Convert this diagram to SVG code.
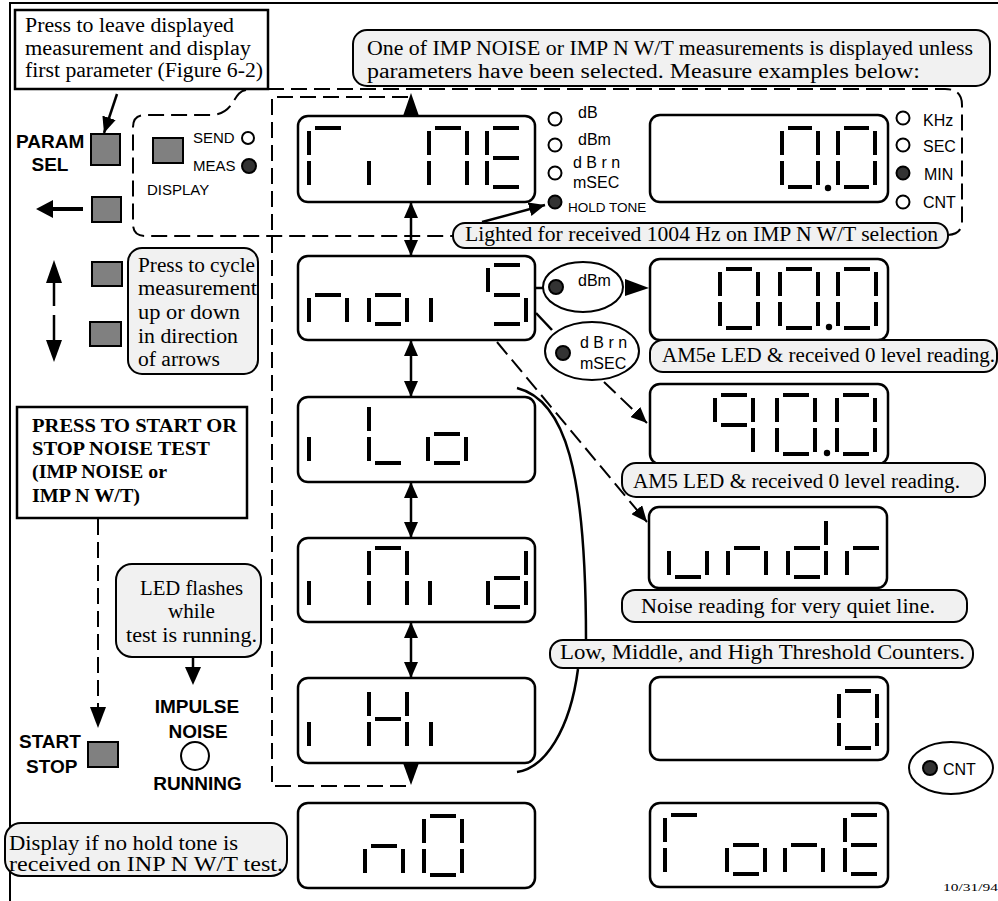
<svg xmlns="http://www.w3.org/2000/svg" width="998" height="901" viewBox="0 0 998 901">
<defs>
<style>
.frame{fill:none;stroke:#000;stroke-width:2}
.box{fill:#fff;stroke:#000;stroke-width:2.5}
.disp{fill:#fff;stroke:#000;stroke-width:2.5}
.bub{fill:#f1f1f1;stroke:#000;stroke-width:2}
.btn{fill:#808080;stroke:#000;stroke-width:2}
.seg{fill:none;stroke:#000;stroke-width:4;stroke-linecap:butt}
.led{fill:#fff;stroke:#000;stroke-width:2}
.ledon{fill:#333;stroke:#000;stroke-width:2}
.oval{fill:#fff;stroke:#000;stroke-width:2}
.ln{fill:none;stroke:#000;stroke-width:2.5}
.dash{fill:none;stroke:#000;stroke-width:2;stroke-dasharray:16 7}
.head{fill:#000;stroke:none}
.serif{font-family:"Liberation Serif","Times New Roman",serif;font-size:20px;fill:#000}
.serifb{font-family:"Liberation Serif","Times New Roman",serif;font-size:18px;font-weight:bold;fill:#000}
.sansb{font-family:"Liberation Sans",Arial,sans-serif;font-size:19px;font-weight:bold;fill:#000}
.sans{font-family:"Liberation Sans",Arial,sans-serif;font-size:16px;fill:#000}
.sans15{font-family:"Liberation Sans",Arial,sans-serif;font-size:15px;fill:#000}
.sans13{font-family:"Liberation Sans",Arial,sans-serif;font-size:13.5px;fill:#000}
</style>
<marker id="ah" viewBox="0 0 16 14" refX="16" refY="7" markerWidth="16" markerHeight="14" markerUnits="userSpaceOnUse" orient="auto-start-reverse"><path d="M0,0 L16,7 L0,14 Z" fill="#000"/></marker>
</defs>
<rect width="998" height="901" fill="#fff"/>
<path class="frame" d="M10,901 V3 H998"/>

<g id="connectors">
<line class="ln" x1="117" y1="94" x2="104" y2="133" marker-end="url(#ah)"/>
<path class="dash" d="M246,90 C232,92 236,113 212,115 L145,115 Q133,115 133,127 L133,224 Q133,236 145,236 L453,236"/>
<path class="dash" d="M268,89 L945,89 Q962,89 962,105 L962,222 Q962,234 948,235"/>
<path class="dash" d="M408,97 L272,97 L272,786 L411,786"/>
<polygon class="head" points="411,93 403,116 419,116"/>
<polygon class="head" points="403,763 419,763 411,785"/>
<line class="ln" x1="411" y1="202" x2="411" y2="256" marker-start="url(#ah)" marker-end="url(#ah)"/>
<line class="ln" x1="411" y1="340" x2="411" y2="397" marker-start="url(#ah)" marker-end="url(#ah)"/>
<line class="ln" x1="411" y1="482" x2="411" y2="538" marker-start="url(#ah)" marker-end="url(#ah)"/>
<line class="ln" x1="411" y1="622" x2="411" y2="678" marker-start="url(#ah)" marker-end="url(#ah)"/>
<line class="ln" x1="482" y1="222" x2="545" y2="205" marker-end="url(#ah)"/>
<line class="ln" x1="535" y1="288" x2="543" y2="288"/>
<polygon class="head" points="625,279 625,296 649,288"/>
<line class="ln" x1="536" y1="313" x2="552" y2="330"/>
<line class="dash" x1="604" y1="382" x2="647" y2="423" marker-end="url(#ah)"/>
<line class="dash" x1="497" y1="342" x2="647" y2="522" marker-end="url(#ah)"/>
<path class="ln" d="M517,388 C565,400 586,470 586,640"/>
<path class="ln" d="M578,669 C570,730 545,768 517,772"/>
<line class="dash" x1="98" y1="519" x2="98" y2="708"/>
<polygon class="head" points="90,707 106,707 98,728"/>
<line class="ln" x1="193" y1="657" x2="193" y2="668"/>
<polygon class="head" points="185,667 201,667 193,685"/>
</g>

<g id="callout-param">
<rect class="box" x="15" y="10" width="253" height="79"/>
<text class="serif" x="25" y="32" textLength="209" lengthAdjust="spacingAndGlyphs">Press to leave displayed</text>
<text class="serif" x="25" y="55" textLength="226" lengthAdjust="spacingAndGlyphs">measurement and display</text>
<text class="serif" x="25" y="77" textLength="238" lengthAdjust="spacingAndGlyphs">first parameter (Figure 6-2)</text>
</g>

<g id="param-sel">
<rect class="btn" x="91" y="134" width="29" height="31"/>
<text class="sansb" x="16" y="148">PARAM</text>
<text class="sansb" x="50" y="171" text-anchor="middle">SEL</text>
</g>

<g id="display-button">
<rect class="btn" x="153" y="138" width="30" height="25"/>
<text class="sans15" x="193" y="143">SEND</text>
<circle class="led" cx="248" cy="138" r="6"/>
<text class="sans15" x="193" y="171">MEAS</text>
<circle class="ledon" cx="249" cy="166" r="7"/>
<text class="sans15" x="147" y="195">DISPLAY</text>
</g>

<g id="back-button">
<rect class="btn" x="92" y="197" width="29" height="25"/>
<line x1="52" y1="209" x2="83" y2="209" stroke="#000" stroke-width="4"/>
<polygon class="head" points="36,209 53,200 53,218"/>
</g>

<g id="updown-buttons">
<rect class="btn" x="92" y="262" width="30" height="24"/>
<rect class="btn" x="90" y="322" width="31" height="24"/>
<polygon class="head" points="54,260 46,283 62,283"/>
<line x1="54" y1="282" x2="54" y2="306" stroke="#000" stroke-width="2.5"/>
<line x1="54" y1="315" x2="54" y2="341" stroke="#000" stroke-width="2.5"/>
<polygon class="head" points="46,340 62,340 54,362"/>
</g>

<g id="cycle-note">
<rect class="bub" x="128" y="248" width="130" height="126" rx="14"/>
<text class="serif" x="138" y="272" textLength="117" lengthAdjust="spacingAndGlyphs">Press to cycle</text>
<text class="serif" x="138" y="295" textLength="119" lengthAdjust="spacingAndGlyphs">measurement</text>
<text class="serif" x="138" y="319" textLength="102" lengthAdjust="spacingAndGlyphs">up or down</text>
<text class="serif" x="138" y="343" textLength="100" lengthAdjust="spacingAndGlyphs">in direction</text>
<text class="serif" x="138" y="366" textLength="82" lengthAdjust="spacingAndGlyphs">of arrows</text>
</g>

<g id="press-start-note">
<rect class="box" x="17" y="407" width="230" height="111"/>
<text class="serifb" x="32" y="432" textLength="205" lengthAdjust="spacingAndGlyphs">PRESS TO START OR</text>
<text class="serifb" x="32" y="455" textLength="178" lengthAdjust="spacingAndGlyphs">STOP NOISE TEST</text>
<text class="serifb" x="32" y="478" textLength="135" lengthAdjust="spacingAndGlyphs">(IMP NOISE or</text>
<text class="serifb" x="32" y="502" textLength="108" lengthAdjust="spacingAndGlyphs">IMP N W/T)</text>
</g>

<g id="led-flash-note">
<rect class="bub" x="116" y="564" width="145" height="93" rx="16"/>
<text class="serif" x="191.5" y="595" text-anchor="middle" textLength="103" lengthAdjust="spacingAndGlyphs">LED flashes</text>
<text class="serif" x="191.5" y="618" text-anchor="middle" textLength="47" lengthAdjust="spacingAndGlyphs">while</text>
<text class="serif" x="191.5" y="642" text-anchor="middle" textLength="131" lengthAdjust="spacingAndGlyphs">test is running.</text>
</g>

<g id="start-stop">
<rect class="btn" x="88" y="742" width="30" height="25"/>
<text class="sansb" x="19" y="748">START</text>
<text class="sansb" x="26" y="773">STOP</text>
</g>

<g id="impulse-led">
<text class="sansb" x="197" y="713" text-anchor="middle">IMPULSE</text>
<text class="sansb" x="198" y="738" text-anchor="middle">NOISE</text>
<circle class="led" cx="195" cy="756" r="14"/>
<text class="sansb" x="197.5" y="790" text-anchor="middle">RUNNING</text>
</g>

<g id="no-tone-note">
<rect class="bub" x="5" y="823" width="282" height="53" rx="16"/>
<text class="serif" x="9" y="850" textLength="229" lengthAdjust="spacingAndGlyphs">Display if no hold tone is</text>
<text class="serif" x="9" y="871" textLength="274" lengthAdjust="spacingAndGlyphs">received on  INP N W/T test.</text>
</g>

<g id="top-note">
<rect class="bub" x="353" y="30" width="637" height="56" rx="14"/>
<text class="serif" x="367" y="55" textLength="606" lengthAdjust="spacingAndGlyphs">One of IMP NOISE or IMP N W/T measurements is displayed unless</text>
<text class="serif" x="367" y="78" textLength="553" lengthAdjust="spacingAndGlyphs">parameters  have been selected. Measure  examples below:</text>
</g>

<g id="disp-time">
<rect class="disp" x="298" y="116" width="237" height="86" rx="10"/>
<path class="seg" d="M315,128H341M309,131V155M309,161V185M369,161V185M435,128H461M429,131V155M467,131V155M429,161V185M467,161V185M493,128H519M487,131V155M493,158H519M487,161V185M493,187H519"/>
</g>

<g id="units-left">
<circle class="led" cx="555" cy="119" r="6.5"/>
<text class="sans" x="578" y="118">dB</text>
<circle class="led" cx="555" cy="145" r="6.5"/>
<text class="sans" x="578" y="145">dBm</text>
<circle class="led" cx="555" cy="173" r="6.5"/>
<text class="sans" x="573" y="168">d B r n</text>
<text class="sans" x="573" y="188">mSEC</text>
<circle class="ledon" cx="555" cy="202" r="6.5"/>
<text class="sans13" x="568" y="212">HOLD TONE</text>
</g>

<g id="disp-min">
<rect class="disp" x="650" y="115" width="238" height="87" rx="10"/>
<path class="seg" d="M788,128H812M782,131V155M818,131V155M782,161V185M818,161V185M788,187H812M844,128H869M838,131V155M875,131V155M838,161V185M875,161V185M844,187H869"/>
<circle cx="828" cy="188" r="3.2" fill="#000"/>
</g>

<g id="units-right">
<circle class="led" cx="903" cy="118" r="6.5"/>
<text class="sans" x="923" y="126">KHz</text>
<circle class="led" cx="903" cy="145" r="6.5"/>
<text class="sans" x="923" y="152">SEC</text>
<circle class="ledon" cx="903" cy="173" r="6.5"/>
<text class="sans" x="924" y="180">MIN</text>
<circle class="led" cx="903" cy="202" r="6.5"/>
<text class="sans" x="923" y="208">CNT</text>
</g>

<g id="hold-tone-note">
<rect class="bub" x="453" y="223" width="495" height="25" rx="12"/>
<text class="serif" x="465" y="241" textLength="473" lengthAdjust="spacingAndGlyphs">Lighted for received 1004 Hz on IMP N W/T selection</text>
</g>

<g id="disp-noise">
<rect class="disp" x="298" y="256" width="237" height="84" rx="10"/>
<path class="seg" d="M315,295H341M309,298V322M347,298V322M375,295H401M369,298V322M407,298V322M375,324H401M431,298V322M494,265H520M488,268V292M494,295H520M526,298V322M494,324H520"/>
</g>

<g id="oval-dbm">
<ellipse class="oval" cx="583" cy="287" rx="40" ry="25"/>
<circle class="ledon" cx="556" cy="287" r="7"/>
<text class="sans" x="578" y="286">dBm</text>
</g>

<g id="oval-dbrn">
<ellipse class="oval" cx="592" cy="351" rx="47" ry="29"/>
<circle class="ledon" cx="563" cy="353" r="7"/>
<text class="sans" x="580" y="348">d B r n</text>
<text class="sans" x="580" y="369">mSEC</text>
</g>

<g id="disp-00">
<rect class="disp" x="650" y="259" width="238" height="81" rx="10"/>
<path class="seg" d="M726,269H752M720,272V296M758,272V296M720,302V326M758,302V326M726,328H752M786,269H812M780,272V296M818,272V296M780,302V326M818,302V326M786,328H812M844,269H870M838,272V296M876,272V296M838,302V326M876,302V326M844,328H870"/>
<circle cx="829" cy="327" r="3.2" fill="#000"/>
</g>

<g id="am5e-note">
<rect class="bub" x="650" y="340" width="347" height="32" rx="13"/>
<text class="serif" x="662" y="362" textLength="333" lengthAdjust="spacingAndGlyphs">AM5e LED &amp; received 0 level reading.</text>
</g>

<g id="disp-90">
<rect class="disp" x="650" y="384" width="238" height="80" rx="10"/>
<path class="seg" d="M721,395H747M715,398V422M753,398V422M721,425H747M753,428V452M783,395H809M777,398V422M815,398V422M777,428V452M815,428V452M783,454H809M843,395H869M837,398V422M875,398V422M837,428V452M875,428V452M843,454H869"/>
<circle cx="827" cy="453" r="3.2" fill="#000"/>
</g>

<g id="am5-note">
<rect class="bub" x="622" y="463" width="363" height="34" rx="14"/>
<text class="serif" x="633" y="488" textLength="327" lengthAdjust="spacingAndGlyphs">AM5 LED &amp; received 0 level reading.</text>
</g>

<g id="disp-lo">
<rect class="disp" x="298" y="397" width="237" height="85" rx="10"/>
<path class="seg" d="M309,437V461M369,407V431M369,437V461M375,463H401M434,434H460M428,437V461M466,437V461M434,463H460"/>
</g>

<g id="disp-undr">
<rect class="disp" x="649" y="507" width="238" height="81" rx="10"/>
<path class="seg" d="M669,551V575M707,551V575M675,577H701M734,548H760M728,551V575M766,551V575M826,521V545M794,548H820M788,551V575M826,551V575M794,577H820M853,548H879M847,551V575"/>
</g>

<g id="quiet-note">
<rect class="bub" x="622" y="590" width="345" height="32" rx="13"/>
<text class="serif" x="641" y="613" textLength="294" lengthAdjust="spacingAndGlyphs">Noise reading for very quiet line.</text>
</g>

<g id="disp-mid">
<rect class="disp" x="298" y="538" width="237" height="84" rx="10"/>
<path class="seg" d="M309,581V605M375,548H401M369,551V575M407,551V575M369,581V605M407,581V605M430,581V605M526,551V575M494,578H520M488,581V605M526,581V605M494,607H520"/>
</g>

<g id="threshold-note">
<rect class="bub" x="550" y="640" width="423" height="28" rx="13"/>
<text class="serif" x="560" y="659" textLength="405" lengthAdjust="spacingAndGlyphs">Low, Middle, and High Threshold Counters.</text>
</g>

<g id="disp-hi">
<rect class="disp" x="298" y="678" width="237" height="85" rx="10"/>
<path class="seg" d="M309,722V746M369,692V716M407,692V716M375,719H401M369,722V746M407,722V746M431,722V746"/>
</g>

<g id="disp-count">
<rect class="disp" x="650" y="677" width="238" height="83" rx="10"/>
<path class="seg" d="M845,691H871M839,694V718M877,694V718M839,723V746M877,723V746M845,748H871"/>
</g>

<g id="oval-cnt">
<ellipse class="oval" cx="951" cy="768" rx="42" ry="26"/>
<circle class="ledon" cx="930" cy="768" r="7"/>
<text class="sans" x="943" y="775">CNT</text>
</g>

<g id="disp-no">
<rect class="disp" x="298" y="803" width="237" height="85" rx="10"/>
<path class="seg" d="M371,846H397M365,849V873M403,849V873M430,816H456M424,819V843M462,819V843M424,849V873M462,849V873M430,875H456"/>
</g>

<g id="disp-tone">
<rect class="disp" x="650" y="803" width="238" height="84" rx="10"/>
<path class="seg" d="M671,815H697M665,818V842M665,848V872M733,845H759M727,848V872M765,848V872M733,874H759M791,845H817M785,848V872M823,848V872M851,815H877M845,818V842M851,845H877M845,848V872M851,874H877"/>
</g>

<g id="date">
<text x="943" y="891" font-family="Liberation Serif, serif" font-size="11" textLength="55" lengthAdjust="spacingAndGlyphs">10/31/94</text>
</g>
</svg>
